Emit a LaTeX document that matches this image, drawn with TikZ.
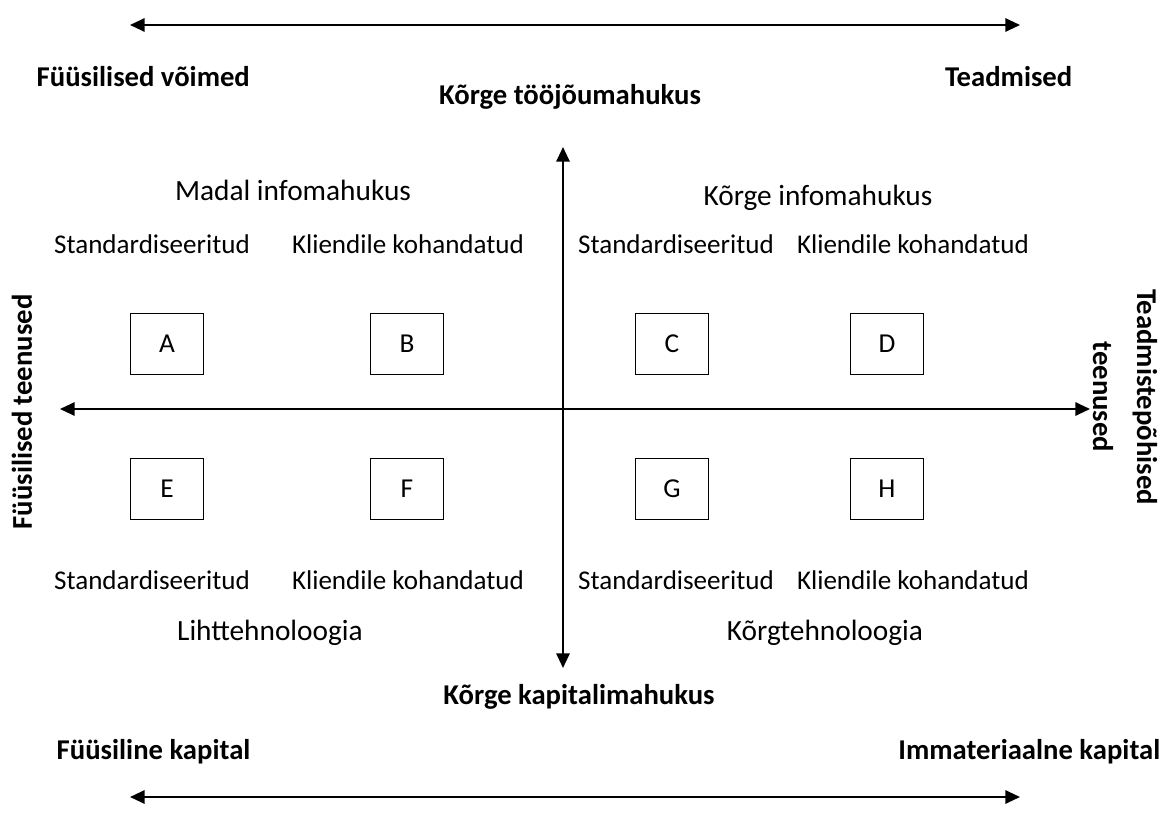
\documentclass[tikz,border=0pt]{standalone}
\usepackage{fontspec}
\setmainfont{Carlito}
\usetikzlibrary{arrows.meta}

\newcommand{\quadboxes}{
        A/167/344, B/407/344, C/672/344, D/887/344,
        E/167/489, F/407/489, G/672/489, H/887/489
    }
\newcommand{\rowlabels}{
        sa/152/Standardiseeritud, ka/408/Kliendile kohandatud,
        sb/676/Standardiseeritud, kb/913/Kliendile kohandatud
    }

\begin{document}
\begin{tikzpicture}[x=0.75pt,y=-0.75pt,
        axis/.style={line width=1.5pt,
            {Triangle[length=11pt,width=10pt]}-{Triangle[length=11pt,width=10pt]}},
        quadbox/.style={draw,line width=0.9pt,minimum width=55pt,minimum height=46pt,
            font=\fontsize{20.5}{24}\selectfont},
        head/.style={font=\fontsize{22}{26}\selectfont},
        sublabel/.style={font=\fontsize{20.3}{24}\selectfont},
        pole/.style={font=\bfseries\fontsize{21.5}{33}\selectfont}]
    \useasboundingbox (0,0) rectangle (1165,824);

    % Outer poles
    \node[pole,anchor=west] (fvoimed) at (32,77) {Füüsilised võimed};
    \node[pole,anchor=east] (teadm) at (1077,77) {Teadmised};
    \node[pole,anchor=west] (fkap) at (52,752) {Füüsiline kapital};
    \node[pole,anchor=east] (ikap) at (1165,752) {Immateriaalne kapital};
    \node[pole] (tooj) at (570,97) {Kõrge tööjõumahukus};
    \node[pole] (kapm) at (579,697) {Kõrge kapitalimahukus};
    \node[pole,rotate=90] (fteen) at (22,412) {Füüsilised teenused};
    \node[pole,rotate=-90,align=center] (tteen) at (1125,397)
        {Teadmistepõhised\\teenused};

    % Quadrant headings
    \node[head] (madal) at (293,190) {Madal infomahukus};
    \node[head] (korge) at (818,198) {Kõrge infomahukus};
    \node[head] (liht) at (270,633) {Lihttehnoloogia};
    \node[head] (korgt) at (825,633) {Kõrgtehnoloogia};

    % Row labels above and below
    \foreach \n/\x/\t in \rowlabels{
        \node[sublabel] (\n top) at (\x,244) {\t};
        \node[sublabel] (\n bot) at (\x,580) {\t};
    }

    % Boxes
    \foreach \n/\x/\y in \quadboxes{
        \node[quadbox] (\n) at (\x,\y) {\n};
    }

    % Axes
    \coordinate (topL) at (130,25);
    \coordinate (topR) at (1020,25);
    \coordinate (botL) at (130,797);
    \coordinate (botR) at (1020,797);
    \coordinate (midL) at (60,409);
    \coordinate (midR) at (1090,409);
    \coordinate (vTop) at (563,147);
    \coordinate (vBot) at (563,668);
    \draw[axis] (topL) -- (topR);
    \draw[axis] (botL) -- (botR);
    \draw[axis] (midL) -- (midR);
    \draw[axis] (vTop) -- (vBot);
\end{tikzpicture}
\end{document}
